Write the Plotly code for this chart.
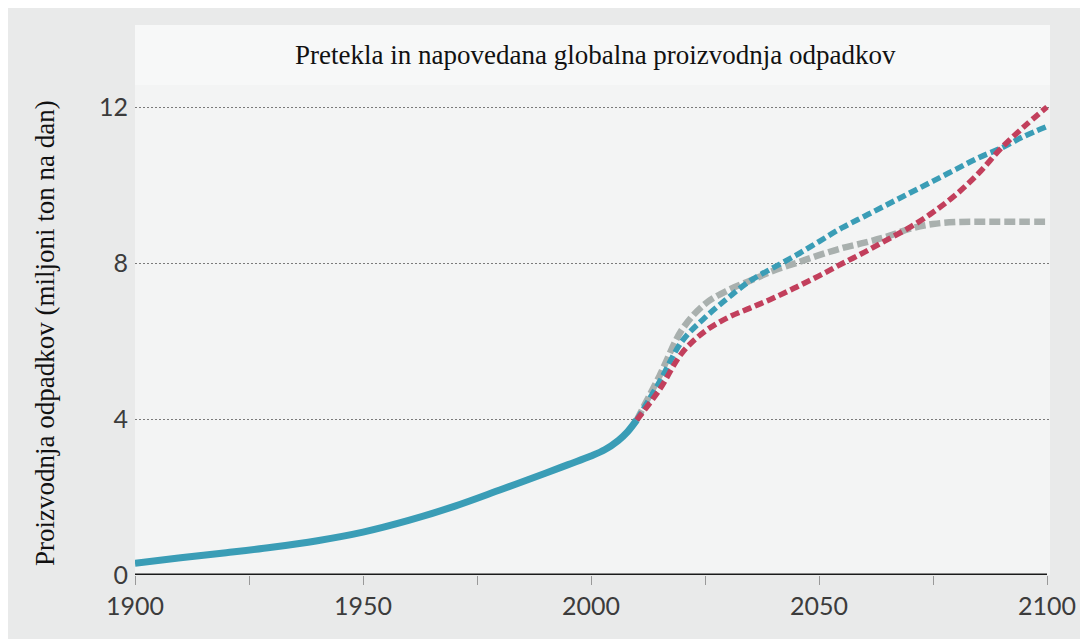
import plotly.graph_objects as go

# Historical data (million tonnes per day)
hist_years = [1900, 1910, 1920, 1930, 1940, 1950, 1960, 1970, 1980, 1990, 1995, 2000, 2003, 2006, 2008, 2010]
hist_vals = [0.30, 0.44, 0.57, 0.71, 0.88, 1.10, 1.40, 1.76, 2.18, 2.61, 2.83, 3.05, 3.21, 3.45, 3.67, 3.97]

# Projections
proj_years = [2010, 2015, 2020, 2025, 2030, 2035, 2040, 2045, 2050, 2055, 2060, 2065, 2070, 2075, 2080, 2085, 2090, 2095, 2100]
proj_gray = [3.97, 5.10, 6.30, 6.95, 7.30, 7.55, 7.80, 8.00, 8.20, 8.38, 8.52, 8.68, 8.88, 9.00, 9.05, 9.06, 9.06, 9.06, 9.06]
proj_blue = [3.97, 4.95, 6.00, 6.60, 7.10, 7.55, 7.88, 8.20, 8.55, 8.90, 9.20, 9.50, 9.80, 10.10, 10.40, 10.70, 10.95, 11.25, 11.50]
proj_red = [3.97, 4.75, 5.70, 6.25, 6.60, 6.85, 7.10, 7.38, 7.67, 7.98, 8.28, 8.60, 8.92, 9.30, 9.75, 10.30, 10.95, 11.50, 12.00]

x_ticks = [1900, 1925, 1950, 1975, 2000, 2025, 2050, 2075, 2100]
x_ticktext = ["1900", "", "1950", "", "2000", "", "2050", "", "2100"]
y_ticks = [0, 4, 8, 12]

title_text = "Pretekla in napovedana globalna proizvodnja odpadkov"
ytitle_text = "Proizvodnja odpadkov (miljoni ton na dan)"

TEAL = "#3a9db6"
RED = "#c23f5c"
GRAY = "#a9b0ae"

fig = go.Figure()

fig.add_trace(go.Scatter(x=proj_years, y=proj_gray, mode="lines",
                         line=dict(color=GRAY, width=6.5, dash="11px,4px", shape="spline"),
                         hoverinfo="skip", showlegend=False))
fig.add_trace(go.Scatter(x=proj_years, y=proj_blue, mode="lines",
                         line=dict(color=TEAL, width=5.5, dash="9px,4px", shape="spline"),
                         hoverinfo="skip", showlegend=False))
fig.add_trace(go.Scatter(x=proj_years, y=proj_red, mode="lines",
                         line=dict(color=RED, width=5.5, dash="9px,4px", shape="spline"),
                         hoverinfo="skip", showlegend=False))
fig.add_trace(go.Scatter(x=hist_years, y=hist_vals, mode="lines",
                         line=dict(color=TEAL, width=7, shape="spline"),
                         hoverinfo="skip", showlegend=False))

# page is offset by the 8px body margin
OFF = 8
W, H = 1088 - OFF, 639 - OFF
PL, PR, PT, PB = 135 - OFF, 1050 - OFF, 25 - OFF, 575 - OFF
L, R, T, B = PL, W - PR, PT, H - PB
plot_w = PR - PL
plot_h = PB - PT
px_per_unit = 39.0


def px_x(page_x):
    return (page_x - OFF - PL) / plot_w


def px_y(page_y):
    return (PB - (page_y - OFF)) / plot_h


shapes = [
    # title band
    dict(type="rect", xref="paper", yref="paper", x0=0, x1=1, y0=px_y(85), y1=1,
         fillcolor="#f7f8f8", line=dict(width=0), layer="below"),
    # baseline
    dict(type="line", xref="x", yref="y", x0=1900, x1=2100, y0=0, y1=0,
         line=dict(color="#1a1a1a", width=3), layer="above"),
]

x_end = 1900 + 200 * plot_w / (1047 - 135)

fig.update_layout(
    width=W, height=H,
    margin=dict(l=L, r=R, t=T, b=B),
    paper_bgcolor="#e9eaea",
    plot_bgcolor="#f3f4f4",
    shapes=shapes,
    xaxis=dict(range=[1900, x_end], tickvals=x_ticks, ticktext=x_ticktext,
               ticks="outside", ticklen=9, tickwidth=1, tickcolor="#999999",
               showgrid=False, zeroline=False, showline=False,
               tickfont=dict(family="Lato", size=25, color="#3c3c3c")),
    yaxis=dict(range=[0, plot_h / px_per_unit], tickvals=y_ticks,
               showgrid=True, gridcolor="#7a7a7a", gridwidth=1, griddash="2px,2px",
               zeroline=False, showline=False, ticks="", ticklabelstandoff=6,
               tickfont=dict(family="Lato", size=25, color="#3c3c3c")),
    annotations=[
        dict(text=title_text, xref="paper", yref="paper", x=px_x(595), y=px_y(55),
             showarrow=False, font=dict(family="Liberation Serif", size=27, color="#111111"),
             xanchor="center", yanchor="middle"),
        dict(text=ytitle_text, xref="paper", yref="paper", x=px_x(45),
             y=px_y(333), textangle=-90, showarrow=False,
             font=dict(family="Liberation Serif", size=27, color="#111111"),
             xanchor="center", yanchor="middle"),
    ],
)

fig.write_html("out.html")
